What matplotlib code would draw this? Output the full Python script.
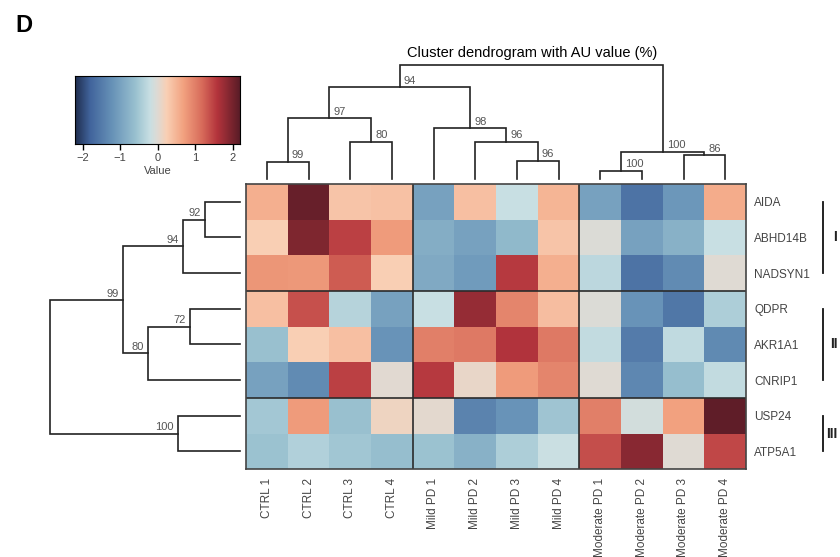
import numpy as np
import matplotlib.pyplot as plt
import matplotlib.transforms as mtransforms
from matplotlib.colors import LinearSegmentedColormap

plt.rcParams['font.family'] = ['Liberation Sans', 'DejaVu Sans']

samples = ['CTRL 1', 'CTRL 2', 'CTRL 3', 'CTRL 4',
           'Mild PD 1', 'Mild PD 2', 'Mild PD 3', 'Mild PD 4',
           'Moderate PD 1', 'Moderate PD 2', 'Moderate PD 3', 'Moderate PD 4']
genes = ['AIDA', 'ABHD14B', 'NADSYN1', 'QDPR', 'AKR1A1', 'CNRIP1', 'USP24', 'ATP5A1']

# z-scores, one row per gene
values = [
    [0.55, 2.10, 0.35, 0.38, -1.00, 0.40, -0.20, 0.50, -1.00, -1.60, -1.15, 0.60],
    [0.25, 1.95, 1.50, 0.75, -0.85, -1.00, -0.70, 0.35, -0.02, -1.00, -0.80, -0.20],
    [0.80, 0.78, 1.30, 0.25, -0.90, -1.10, 1.55, 0.55, -0.30, -1.60, -1.30, 0.00],
    [0.40, 1.38, -0.35, -1.00, -0.20, 1.80, 0.95, 0.42, -0.03, -1.20, -1.55, -0.42],
    [-0.60, 0.25, 0.40, -1.20, 1.00, 1.05, 1.60, 1.05, -0.25, -1.50, -0.27, -1.32],
    [-1.00, -1.30, 1.50, 0.02, 1.55, 0.10, 0.75, 0.95, 0.00, -1.35, -0.62, -0.25],
    [-0.50, 0.75, -0.60, 0.15, 0.05, -1.40, -1.20, -0.55, 1.00, -0.12, 0.70, 2.15],
    [-0.58, -0.38, -0.53, -0.63, -0.57, -0.80, -0.42, -0.18, 1.40, 1.88, 0.00, 1.45],
]

# merges: (left, right, height, AU %) ; new nodes numbered after the leaves
col_merges = [
    (0, 1, 0.152, 99), (2, 3, 0.327, 80), (12, 13, 0.532, 97),
    (6, 7, 0.161, 96), (5, 15, 0.327, 96), (4, 16, 0.445, 98),
    (14, 17, 0.804, 94), (8, 9, 0.073, 100), (10, 11, 0.21, 86),
    (19, 20, 0.24, 100), (18, 21, 1.0, None),
]
row_merges = [
    (0, 1, 0.184, 92), (8, 2, 0.298, 94), (3, 4, 0.262, 72),
    (10, 5, 0.486, 80), (9, 11, 0.614, 99), (6, 7, 0.325, 100),
    (12, 13, 1.0, None),
]

groups = [('I', 0, 2), ('II', 3, 5), ('III', 6, 7)]
cbar_ticks = [-2, -1, 0, 1, 2]

cmap_vals = [-2.2, -1.8, -1.2, -0.6, -0.2, 0.0, 0.25, 0.7, 1.2, 1.6, 2.2]
cmap_cols = ['#1f2d4e', '#41649c', '#6893b8', '#98c0cf', '#c8dfe3', '#dedad4',
             '#f9cfb4', '#f2a17f', '#d76a5a', '#b3343c', '#5a1c27']
cmap = LinearSegmentedColormap.from_list(
    'rdbu_dark', [((v + 2.2) / 4.4, c) for v, c in zip(cmap_vals, cmap_cols)])

W, H = 840, 557
def box(x0, y0, x1, y1):
    return [x0 / W, 1 - y1 / H, (x1 - x0) / W, (y1 - y0) / H]

fig = plt.figure(figsize=(8.4, 5.57), dpi=100)
ax_hm = fig.add_axes(box(246, 184, 746, 469.3))
ax_top = fig.add_axes(box(246, 65, 746, 179))
ax_left = fig.add_axes(box(50, 184, 240, 469.3))
ax_cb = fig.add_axes(box(75, 76, 240, 144))

line_col = '#222222'
num_col = '#555555'
txt_col = '#444444'


def dendro(ax, merges, n, orient):
    pos = {i: i + 0.5 for i in range(n)}
    hgt = {i: 0.0 for i in range(n)}
    for k, (a, b, h, au) in enumerate(merges):
        node = n + k
        xs = [pos[a], pos[a], pos[b], pos[b]]
        ys = [hgt[a], h, h, hgt[b]]
        pos[node] = (pos[a] + pos[b]) / 2
        hgt[node] = h
        if orient == 'top':
            ax.plot(xs, ys, color=line_col, lw=1.2, clip_on=False,
                    solid_joinstyle='miter')
            if au is not None:
                ax.annotate(str(au), (pos[node], h), xytext=(3, 1),
                            textcoords='offset points', ha='left', va='bottom',
                            fontsize=8, color=num_col)
        else:
            ax.plot(ys, xs, color=line_col, lw=1.2, clip_on=False,
                    solid_joinstyle='miter')
            if au is not None:
                ax.annotate(str(au), (h, pos[node]), xytext=(-3, 1),
                            textcoords='offset points', ha='right', va='bottom',
                            fontsize=8, color=num_col)


dendro(ax_top, col_merges, len(samples), 'top')
ax_top.set_xlim(0, len(samples))
ax_top.set_ylim(0, 1)
ax_top.axis('off')

dendro(ax_left, row_merges, len(genes), 'left')
ax_left.set_xlim(1, 0)
ax_left.set_ylim(len(genes), 0)
ax_left.axis('off')

# heatmap
ax_hm.pcolormesh(np.array(values), cmap=cmap, vmin=-2.2, vmax=2.2)
ax_hm.set_xlim(0, len(samples))
ax_hm.set_ylim(len(genes), 0)
for x in [4, 8]:
    ax_hm.axvline(x, color='#2b2b2b', lw=1.2)
for y in [3, 6]:
    ax_hm.axhline(y, color='#2b2b2b', lw=1.2)
for s in ax_hm.spines.values():
    s.set_linewidth(1.2)
    s.set_color('#444444')
ax_hm.set_xticks(np.arange(len(samples)) + 0.5, samples, rotation=90,
                 fontsize=8.5, color=txt_col)
ax_hm.yaxis.tick_right()
ax_hm.set_yticks(np.arange(len(genes)) + 0.5, genes, fontsize=8.5, color=txt_col)
ax_hm.tick_params(length=0, pad=6)

# cluster bars on the right
trans = mtransforms.blended_transform_factory(ax_hm.transAxes, ax_hm.transData)
lab_x = {'I': (1.178, 'center'), 'II': (1.169, 'left'), 'III': (1.160, 'left')}
for name, r0, r1 in groups:
    ax_hm.plot([1.1534, 1.1534], [r0 + 0.5, r1 + 0.5], color='#111111',
               lw=1.3, transform=trans, clip_on=False)
    lx, ha = lab_x[name]
    ax_hm.text(lx, (r0 + r1) / 2 + 0.5, name, transform=trans, ha=ha, va='center',
               fontsize=10, fontweight='bold', color='#222222')

# colour key
grad = np.linspace(-2.2, 2.2, 256).reshape(1, -1)
ax_cb.imshow(grad, aspect='auto', cmap=cmap, extent=[-2.2, 2.2, 0, 1])
ax_cb.set_yticks([])
ax_cb.set_xticks(cbar_ticks)
ax_cb.tick_params(axis='x', length=4, width=1, pad=2.5, labelsize=8,
                  labelcolor=txt_col)
ax_cb.set_xlabel('Value', fontsize=8, color=txt_col, labelpad=2)
for s in ax_cb.spines.values():
    s.set_linewidth(0.8)

fig.text(0.633, 0.905, 'Cluster dendrogram with AU value (%)', ha='center',
         va='center', fontsize=10.5)
fig.text(0.018, 0.955, 'D', fontsize=17, fontweight='bold', ha='left', va='center')

fig.savefig('out.png', dpi=100, facecolor='white')
